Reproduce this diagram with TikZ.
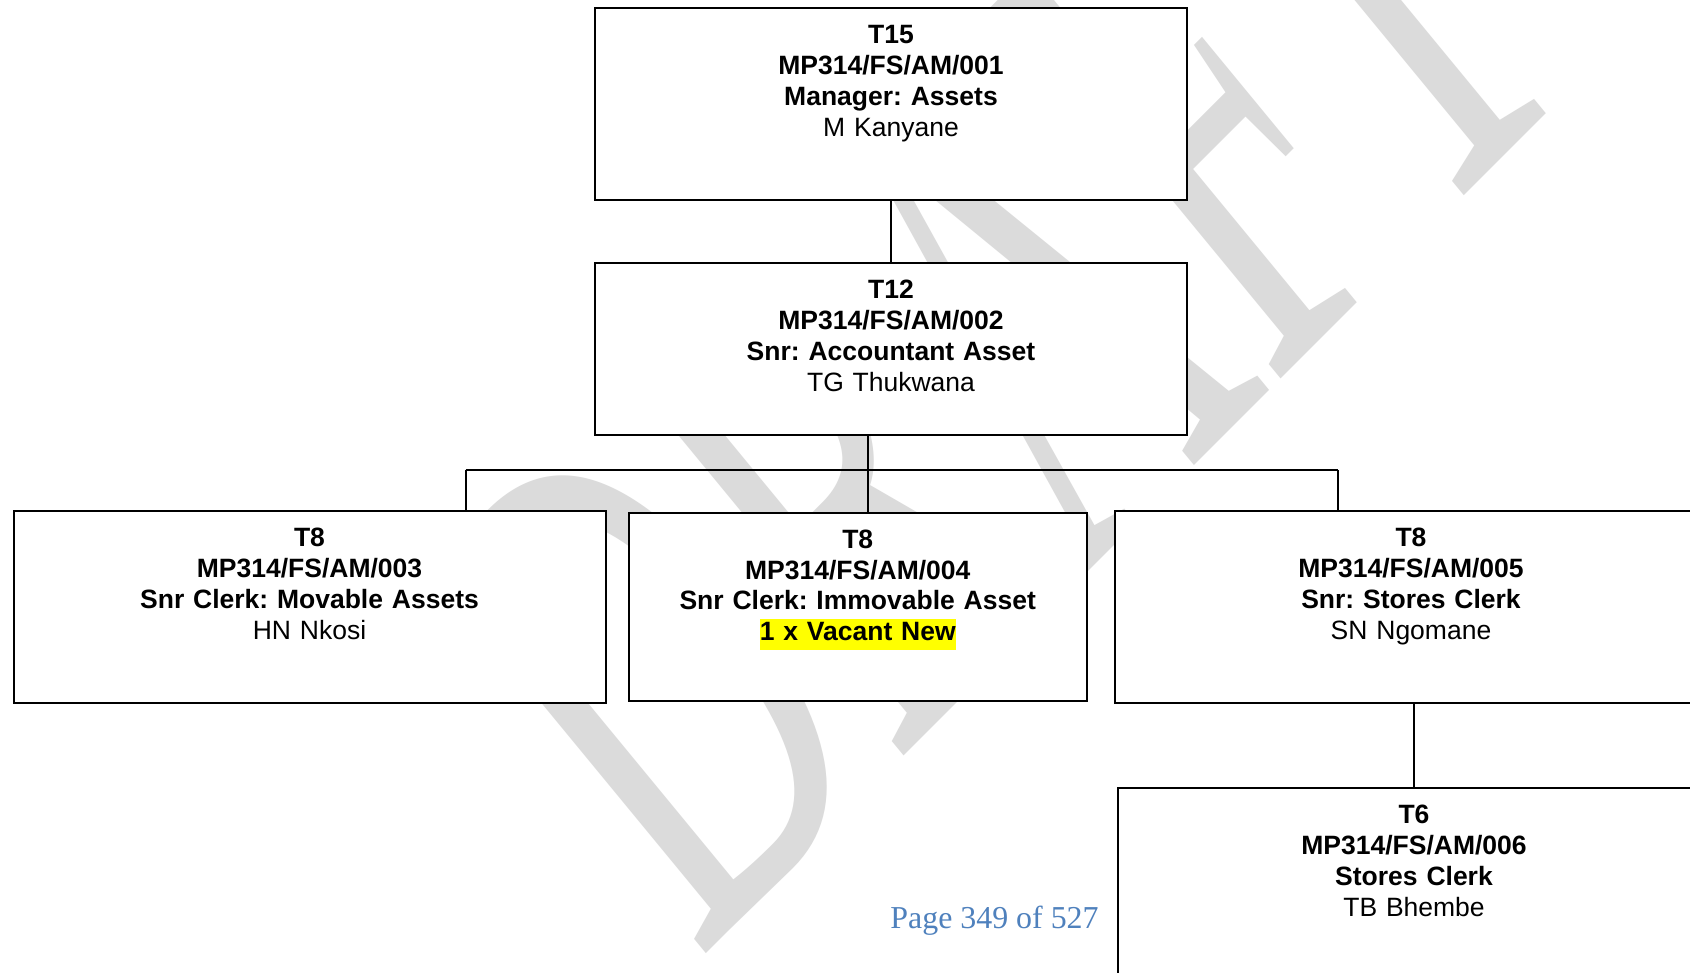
\documentclass[tikz,border=0pt]{standalone}
\usepackage{fontspec}
\setmainfont{Liberation Sans}
\newfontfamily\serifface{Liberation Serif}
\usepackage{tikz}
\usetikzlibrary{positioning, backgrounds}
\definecolor{wmgray}{RGB}{219,219,219}
\definecolor{pageblue}{RGB}{79,129,189}
\definecolor{hilite}{RGB}{255,255,0}
\setlength{\fboxsep}{0pt}
\frenchspacing

\begin{document}
\begin{tikzpicture}[
  x=1pt, y=1pt,
  node distance = 30.5pt and 10.5pt,
  post/.style   = {rectangle, draw, line width=1pt, fill=white,
                   inner xsep=0pt, inner ysep=8.2pt, align=center,
                   text width=296pt, text height=9.5pt, text depth=70.1pt,
                   font=\fontsize{13.25}{15.45}\selectfont},
  link/.style   = {line width=0.9pt},
  pagenum/.style = {font=\serifface\fontsize{15.95}{18}\selectfont,
                   text=pageblue, inner sep=0pt},
  wmark/.style  = {font=\serifface\fontsize{192}{195}\selectfont,
                   text=wmgray, inner sep=0pt},
]
\useasboundingbox (0,0) rectangle (845,-486.5);
% Row 1-2: manager and senior accountant
\node[post, anchor=north, text depth=69.85pt] (t15) at (445.5,-3.75)
  {\textbf{T15}\\\textbf{MP314/FS/AM/001}\\\textbf{Manager: Assets}\\M Kanyane};
\node[post, below=of t15, text depth=60.1pt] (t12)
  {\textbf{T12}\\\textbf{MP314/FS/AM/002}\\\textbf{Snr: Accountant Asset}\\TG Thukwana};
% Row 3: the three T8 posts
\node[post, anchor=north] (t003) at (154.75,-255)
  {\textbf{T8}\\\textbf{MP314/FS/AM/003}\\\textbf{Snr Clerk: Movable Assets}\\HN Nkosi};
\node[post, right=of t003, text width=229.25pt, text depth=68.4pt] (t004)
  {\textbf{T8}\\\textbf{MP314/FS/AM/004}\\\textbf{Snr Clerk: Immovable Asset}\\
   \colorbox{hilite}{\strut\textbf{1 x Vacant New}}};
\node[post, right=13pt of t004] (t005)
  {\textbf{T8}\\\textbf{MP314/FS/AM/005}\\\textbf{Snr: Stores Clerk}\\SN Ngomane};
% Row 4: stores clerk under t005
\node[post, below=41.5pt of t005, xshift=1.5pt] (t006)
  {\textbf{T6}\\\textbf{MP314/FS/AM/006}\\\textbf{Stores Clerk}\\TB Bhembe};
% Footer
\node[pagenum, anchor=base west] (pnum) at (445,-464) {Page 349 of 527};
% Connectors
\coordinate (busL) at (232.8,-235);
\coordinate (busM) at (433.8,-235);
\coordinate (busR) at (669,-235);
\draw[link] (t15) -- (t12);
\draw[link] (t12.south -| busM) -- (t004.north -| busM);
\draw[link] (busL) -- (busR);
\draw[link] (busL) -- (busL |- t003.north);
\draw[link] (busR) -- (busR |- t005.north);
\draw[link] (t005.south -| t006.north) -- (t006.north);
% Watermark behind everything
\begin{pgfonlayer}{background}
  \fill[white] (0,0) rectangle (845,-486.5);
  \begin{scope}[shift={(349,-481)}, rotate=45, yscale=1.86, xslant=0.18,
                transform shape]
    \node[wmark, anchor=base west] (draft) at (0,0) {DRAFT};
  \end{scope}
\end{pgfonlayer}
\end{tikzpicture}
\end{document}
